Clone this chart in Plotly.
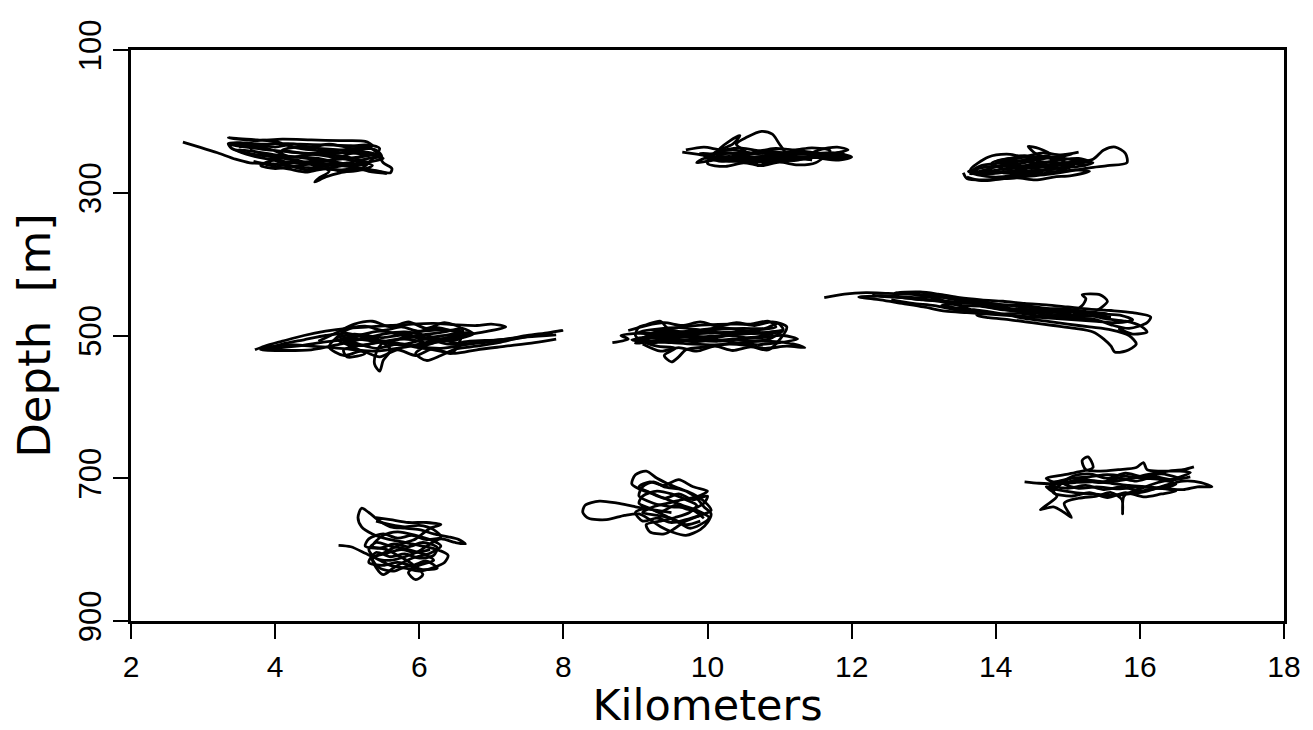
import plotly.graph_objects as go

# Float trajectories: x in kilometers, depth in meters
a_km = [2.72,2.95,3.2,3.45,3.65,3.9,4.2,4.5,4.9,5.2,5.45,5.6,5.62,5.5,5.42,5.3,5.05,4.7,4.35,4.05,3.8,3.55,3.35,3.4,3.7,4.0,4.3,4.55,4.75,4.6,4.55,4.7,4.9,5.2,5.35,5.1,4.8,4.5,4.2,3.9,3.6,3.38,3.6,3.9,4.15,4.4,4.7,5.0,5.3,5.48,5.4,5.1,4.8,4.5,4.25,4.0,3.75,3.35,3.7,4.1,4.5,4.9,5.25,5.35,5.1,4.85,4.6,4.3,4.0,3.8,3.95,4.2,4.6,5.0,5.3,5.55]
a_dep = [229,236,244,253,258,259,262,265,268,266,270,272,266,258,245,236,234,233,232,231,232,230,231,238,246,250,255,262,270,280,285,278,272,268,262,255,250,246,243,240,236,233,233,238,248,257,262,258,252,249,240,238,242,240,236,228,226,223,227,225,226,227,228,234,243,252,258,262,266,262,255,250,252,262,270,273]
a2_km = [5.55,5.3,5.0,4.7,4.4,4.1,3.85,3.6,3.45,3.7,4.0,4.3,4.6,4.9,5.15,5.3,5.1,4.85,4.55,4.25,3.95,4.2,4.45,4.75,5.05,5.35,5.5,5.25,4.95,4.65,4.35,4.1,4.3,4.6,4.9,5.2,5.4,5.15,4.8,4.5,4.2,3.9,3.65]
a2_dep = [273,268,263,260,258,256,252,246,240,242,247,250,254,258,262,258,252,248,246,250,252,262,268,265,260,256,252,246,244,245,244,240,236,238,240,242,246,250,254,256,258,248,240]
a3_km = [3.5,3.75,4.0,4.25,4.5,4.75,5.0,5.25,5.45,5.2,4.95,4.7,4.45,4.2,3.95,3.7]
a3_dep = [236,233,236,232,236,232,236,233,238,266,270,266,271,267,262,256]

b_km = [9.65,9.85,10.05,10.3,10.6,10.9,11.2,11.5,11.75,12.0,11.85,11.6,11.4,11.55,11.8,11.95,11.7,11.4,11.1,10.8,10.5,10.2,9.95,9.85,10.05,10.35,10.55,10.4,10.55,10.75,10.9,11.0,11.1,11.3,11.0,10.7,10.65,10.4,10.15,10.3,10.45,10.35,10.1,10.2,10.5,10.8,11.1,11.4,11.7,11.95,11.6,11.3,11.0,10.7,10.4,10.1,9.9,10.0,10.3,10.6,10.9,11.2,11.45]
b_dep = [243,246,249,252,250,248,246,245,244,250,254,252,248,240,236,240,246,252,255,257,256,254,252,258,255,250,245,232,222,214,218,232,245,250,253,262,255,246,241,228,220,232,244,249,253,250,249,250,252,250,247,243,244,245,244,246,245,250,256,254,252,251,254]
b2_km = [11.45,11.2,10.95,10.7,10.45,10.2,10.0,10.25,10.5,10.75,11.0,11.25,11.5,11.3,11.05,10.8,10.55,10.3,10.05,10.2,10.45,10.7,10.95,11.2,11.45,11.7,11.9]
b2_dep = [254,250,247,251,248,251,247,244,247,244,247,243,247,250,252,249,252,249,252,256,253,256,253,255,250,248,245]
b3_km = [9.7,9.95,10.2,10.45,10.7,10.95,11.2,11.45,11.7,11.5,11.25,11.0,10.75,10.5,10.25,10.0,10.1,10.35,10.6,10.85,11.1,11.35,11.6,11.85]
b3_dep = [240,236,240,237,241,238,240,237,241,258,261,257,262,258,263,259,244,240,244,241,245,242,246,243]

c_km = [13.55,13.6,13.85,14.15,14.45,14.75,15.0,15.3,15.55,15.82,15.8,15.66,15.5,15.35,15.1,14.8,14.9,15.05,14.8,14.55,14.3,14.05,13.8,13.62,13.75,14.0,14.3,14.6,14.9,15.15,15.35,15.2,14.95,14.6,14.4,14.2,13.95,14.1,14.4,14.7,14.95,14.75,14.55,14.45,14.6,14.75,14.5,14.2,13.9,14.1,14.5,14.85,15.1]
c_dep = [272,280,282,280,277,274,270,265,262,258,245,236,240,253,258,260,250,246,250,254,260,262,265,270,275,278,275,270,265,263,258,256,258,256,248,252,258,266,270,267,255,252,245,235,238,246,252,258,268,272,274,270,262]
c2_km = [15.1,14.85,14.6,14.35,14.1,13.85,13.65,13.9,14.15,14.4,14.65,14.9,15.15,15.3,15.05,14.8,14.55,14.3,14.05,13.8,13.7,13.95,14.2,14.45,14.7,14.95,15.2,14.95,14.7,14.45,14.2,14.0,14.25,14.5,14.75,15.0,15.25]
c2_dep = [262,266,262,266,262,268,274,270,266,262,258,254,252,256,260,262,258,255,258,262,268,273,270,266,262,258,257,252,249,250,252,256,262,266,262,258,262]
c3_km = [13.6,13.8,14.05,14.3,14.55,14.8,15.05,15.3,15.1,14.85,14.6,14.35,14.1,13.85,13.65,13.9,14.15,14.4,14.65,14.9,15.15]
c3_dep = [278,283,281,279,282,278,276,270,268,271,268,272,270,274,268,250,246,249,244,247,243]

d_km = [3.72,3.85,4.1,4.4,4.7,5.0,5.3,5.6,5.9,6.2,6.5,6.8,7.0,7.2,6.9,6.6,6.3,6.0,5.7,5.4,5.1,4.8,4.5,4.2,3.95,3.8,4.1,4.5,4.9,5.2,5.5,5.8,6.1,6.4,6.6,6.9,7.2,7.5,7.8,7.98,7.7,7.4,7.1,6.8,6.5,6.3,6.1,5.95,6.1,5.8,5.5,5.4,5.38,5.45,5.5,5.6,5.4,5.1,4.85,5.05,5.25,5.0,4.95,5.3,5.7,6.0,6.35,6.6,6.75,6.5,6.2,5.9,6.2,6.5,6.8,7.2,7.6,7.9]
d_dep = [520,515,508,500,494,490,488,486,484,483,485,486,484,488,495,500,505,512,518,522,520,517,515,513,516,520,521,520,512,505,498,495,500,508,512,508,505,500,496,493,498,503,510,515,519,528,535,525,512,505,510,525,540,550,535,520,505,498,505,515,525,530,520,512,506,500,495,490,498,505,510,515,520,525,520,515,510,505]
d2_km = [7.9,7.5,7.1,6.7,6.4,6.1,5.8,5.5,5.2,4.95,5.2,5.5,5.8,6.1,6.4,6.7,6.55,6.3,6.0,5.7,5.4,5.1,4.9,5.15,5.45,5.75,6.05,6.35,6.6,6.45,6.15,5.85,5.55,5.25,5.0,4.7,4.4,4.1,3.9,4.3,4.7,5.1,5.5,5.9,6.3,6.7,7.1,7.5,7.85]
d2_dep = [499,502,506,508,512,505,512,508,514,510,500,503,499,503,499,496,505,508,515,512,518,510,505,500,494,498,494,492,495,502,506,502,508,503,497,500,506,512,518,515,509,505,510,515,518,512,508,502,497]
d3_km = [4.6,4.85,5.1,5.35,5.6,5.85,6.1,6.35,6.6,6.45,6.2,5.95,5.7,5.45,5.2,4.95,4.75,5.0,5.25,5.5,5.75,6.0,6.25,6.5,6.7]
d3_dep = [508,496,484,480,488,481,490,482,492,525,518,528,520,530,522,528,516,492,487,493,488,494,489,495,500]

e_km = [8.68,8.9,8.8,9.0,9.3,9.6,9.9,10.2,10.5,10.8,10.98,11.05,10.8,10.5,10.2,9.9,9.6,9.3,9.05,9.2,9.5,9.8,10.1,10.4,10.7,11.0,11.2,11.35,11.1,10.8,10.55,10.3,10.0,9.7,9.6,9.5,9.4,9.55,9.3,9.1,9.0,9.05,9.15,9.35,9.45,9.7,10.0,10.3,10.6,10.85,10.95,10.7,10.4,10.1,9.8,9.5,9.2,8.95,9.2,9.55,9.85,10.15,10.45,10.75,11.05,11.25,11.0,10.7]
e_dep = [510,505,500,497,497,495,493,491,490,490,483,492,496,498,500,502,503,504,503,508,510,512,513,511,508,509,512,517,515,518,514,512,516,520,530,537,528,518,515,508,500,488,485,480,490,487,485,484,484,480,488,492,495,496,498,500,502,506,510,507,507,508,505,503,500,505,510,513]
e2_km = [10.7,10.4,10.1,9.8,9.5,9.2,9.0,9.25,9.5,9.75,10.0,10.25,10.5,10.75,11.0,10.8,10.55,10.3,10.05,9.8,9.55,9.3,9.05,9.3,9.6,9.9,10.2,10.5,10.8,11.05,10.85,10.6,10.35,10.1,9.85,9.6,9.35,9.15]
e2_dep = [513,510,506,509,505,508,511,496,493,497,494,497,494,497,494,500,503,500,504,500,497,500,495,491,489,492,489,493,496,493,505,508,505,507,504,508,506,497]
e3_km = [8.9,9.15,9.4,9.65,9.9,10.15,10.4,10.65,10.9,11.1,10.85,10.6,10.35,10.1,9.85,9.6,9.35,9.1]
e3_dep = [493,486,482,486,481,487,482,486,481,488,520,516,521,515,522,517,522,512]

f_km = [11.62,11.9,12.2,12.5,12.8,13.1,13.4,13.7,14.0,14.3,14.6,14.9,15.2,15.5,15.75,15.9,15.7,15.4,15.1,14.8,14.5,14.2,13.9,13.6,13.3,13.0,12.7,12.4,12.1,12.4,12.7,13.0,13.3,13.6,13.9,14.2,14.5,14.8,15.1,15.4,15.6,15.85,16.1,16.15,15.9,15.6,15.3,15.0,14.7,14.4,14.1,13.8,13.5,13.2,12.95,12.6,12.9,13.2,13.5,13.7,13.75,13.9,14.2,14.5,14.8,15.1,15.35,15.5,15.6,15.65,15.8,15.95,15.85,15.6,15.3,15.0,14.7,14.4,14.1,13.8,13.5,13.25,13.5,13.8,14.1,14.4,14.7,15.0,15.2,15.25,15.2,15.45,15.55,15.45,15.3,15.5,15.8,16.0,16.1,15.9,15.7]
f_dep = [447,442,440,441,442,444,448,452,456,459,462,465,468,470,472,478,482,480,478,476,474,472,470,468,466,460,455,450,446,445,447,450,452,455,460,465,468,472,475,478,485,490,482,474,468,465,463,460,457,455,452,450,447,442,439,440,443,449,458,466,472,475,478,482,486,490,495,505,515,523,522,512,500,492,488,484,480,476,470,465,462,458,455,456,461,464,466,469,458,448,443,443,452,462,470,476,480,486,495,498,490]
f2_km = [15.6,15.3,15.0,14.7,14.4,14.1,13.8,13.5,13.2,12.9,12.6,12.3,12.6,12.9,13.2,13.5,13.8,14.1,14.4,14.7,15.0,15.3,15.55,15.25,14.95,14.65,14.35,14.05,13.75,13.45,13.15,12.85,12.55]
f2_dep = [474,472,467,468,463,464,459,458,452,449,446,444,445,447,446,451,453,457,458,462,463,467,470,473,471,473,469,470,466,464,458,455,450]

g_km = [4.88,5.05,5.25,5.45,5.6,5.8,6.0,6.2,6.35,6.4,6.25,6.05,5.8,5.55,5.35,5.2,5.15,5.2,5.3,5.45,5.6,5.8,6.0,6.2,6.4,6.55,6.64,6.5,6.3,6.15,6.0,5.8,5.6,5.4,5.3,5.4,5.6,5.85,6.1,6.2,6.0,5.85,5.95,6.05,5.9,5.7,5.55,5.35,5.5,5.7,5.95,6.2,6.3,6.15,5.9,5.65,5.5,5.4,5.35,5.5,5.75,5.95,6.15,6.3,6.1,5.85,5.6,5.4]
g_dep = [794,796,805,815,822,826,830,825,818,808,800,795,790,785,778,768,755,742,748,760,768,770,772,778,782,786,792,790,785,792,802,810,815,812,800,790,795,800,808,815,822,832,842,835,820,808,800,795,780,775,780,788,795,805,812,825,835,825,812,805,792,785,770,765,762,762,758,755]
g2_km = [5.4,5.6,5.8,6.0,6.2,6.3,6.1,5.9,5.7,5.5,5.3,5.25,5.45,5.65,5.85,6.05,6.25,6.2,6.0,5.8,5.6,5.4,5.3,5.5,5.7,5.9,6.1,6.25,6.05,5.85,5.65,5.45,5.35,5.55,5.75,5.95,6.15]
g2_dep = [760,765,768,766,772,782,786,780,784,778,785,795,798,792,796,790,797,808,812,806,810,804,818,822,818,822,816,826,828,823,830,826,812,805,800,804,800]

h_km = [9.5,9.3,9.0,8.75,8.5,8.3,8.27,8.35,8.6,8.85,9.05,9.2,9.35,9.5,9.7,9.9,10.0,10.05,9.95,9.85,9.7,9.5,9.3,9.15,9.0,8.95,9.05,9.25,9.45,9.65,9.85,10.02,9.9,9.75,9.6,9.4,9.2,9.05,9.1,9.3,9.5,9.7,9.85,9.75,9.55,9.35,9.15,9.2,9.4,9.55,9.7,9.9,10.05,9.95,9.8,9.6,9.4,9.25,9.1,9.05,9.25,9.5,9.75,9.95]
h_dep = [748,745,740,735,732,738,748,756,758,752,750,758,768,775,780,772,762,750,740,728,718,710,700,690,695,708,715,722,730,738,745,755,765,770,762,752,742,735,725,718,722,730,738,748,755,760,765,775,778,770,760,752,745,732,722,715,712,705,712,725,735,740,742,756]
h2_km = [9.9,9.7,9.5,9.3,9.1,9.0,9.15,9.35,9.55,9.75,9.95,10.0,9.8,9.6,9.4,9.2,9.05,9.2,9.4,9.6,9.8,10.0,9.85,9.65,9.45,9.25,9.1,9.3,9.5,9.7,9.9]
h2_dep = [752,758,762,756,760,748,742,747,738,744,735,725,730,722,728,720,712,705,710,702,712,718,726,730,735,740,748,752,756,765,760]

i_km = [14.4,14.6,14.85,15.1,15.35,15.6,15.85,16.1,16.35,16.6,16.8,17.0,16.85,16.6,16.35,16.1,15.85,15.6,15.35,15.1,14.85,14.7,14.85,14.7,14.62,14.8,14.95,15.05,14.95,15.15,15.4,15.6,15.75,15.76,15.78,16.0,16.25,16.5,16.7,16.55,16.3,16.1,16.05,15.95,15.7,15.45,15.25,15.2,15.28,15.35,15.1,14.9,14.7,14.8,15.05,15.3,15.55,15.8,16.05,16.3,16.5,16.3,16.0,15.7,15.4,15.15,14.95,15.2,15.5,15.8,16.1,16.4,16.6,16.75]
i_dep = [705,707,708,706,705,707,710,712,714,716,712,712,706,704,710,718,722,724,722,720,716,712,725,738,744,740,748,755,735,728,725,720,730,750,725,715,706,700,692,690,690,688,678,685,688,690,688,675,670,685,692,696,700,705,700,698,695,697,700,702,708,714,712,715,712,714,708,702,705,702,695,690,688,684]
i2_km = [16.7,16.45,16.2,15.95,15.7,15.45,15.2,14.95,14.75,15.0,15.25,15.5,15.75,16.0,16.25,16.5,16.3,16.05,15.8,15.55,15.3,15.05,14.8,15.05,15.3,15.55,15.8,16.05,16.3,16.55]
i2_dep = [698,702,698,704,700,706,702,706,710,714,710,716,712,718,714,718,722,726,720,727,720,725,720,698,694,700,693,698,694,700]

x_ticks = [2, 4, 6, 8, 10, 12, 14, 16, 18]
y_ticks = [100, 300, 500, 700, 900]

tracks = [(a_km, a_dep), (a2_km, a2_dep), (a3_km, a3_dep),
          (b_km, b_dep), (b2_km, b2_dep), (b3_km, b3_dep),
          (c_km, c_dep), (c2_km, c2_dep), (c3_km, c3_dep),
          (d_km, d_dep), (d2_km, d2_dep), (d3_km, d3_dep),
          (e_km, e_dep), (e2_km, e2_dep), (e3_km, e3_dep),
          (f_km, f_dep), (f2_km, f2_dep),
          (g_km, g_dep), (g2_km, g2_dep),
          (h_km, h_dep), (h2_km, h2_dep),
          (i_km, i_dep), (i2_km, i2_dep)]

fig = go.Figure()
for xs, ys in tracks:
    fig.add_trace(go.Scatter(x=xs, y=ys, mode="lines",
                             line=dict(color="black", width=2.8, shape="spline", smoothing=0.8),
                             showlegend=False, hoverinfo="skip"))

tick_family = "Liberation Sans, Arial, sans-serif"
title_family = "DejaVu Sans, Verdana, sans-serif"
fig.update_layout(
    width=1313, height=730,
    margin=dict(l=131, r=24, t=50, b=109),
    paper_bgcolor="white", plot_bgcolor="white",
    font=dict(family=tick_family, color="black"),
    showlegend=False,
)
fig.update_xaxes(
    range=[2, 18], tickvals=x_ticks, ticktext=[str(v) for v in x_ticks],
    ticks="outside", ticklen=15, tickwidth=2, tickcolor="black",
    showline=True, linewidth=3, linecolor="black", mirror=True,
    showgrid=False, zeroline=False, ticklabelstandoff=2,
    tickfont=dict(size=30, family=tick_family),
    title=dict(text="Kilometers", font=dict(size=43, family=title_family), standoff=2),
)
fig.update_yaxes(
    range=[900, 100], tickvals=y_ticks, ticktext=[str(v) for v in y_ticks],
    ticks="outside", ticklen=15, tickwidth=2, tickcolor="black",
    showline=True, linewidth=3, linecolor="black", mirror=True,
    showgrid=False, zeroline=False, tickangle=-90,
    tickfont=dict(size=31, family=tick_family),
    title=dict(text="Depth  [m]", font=dict(size=45, family=title_family), standoff=8),
)

fig.write_html("out.html")
